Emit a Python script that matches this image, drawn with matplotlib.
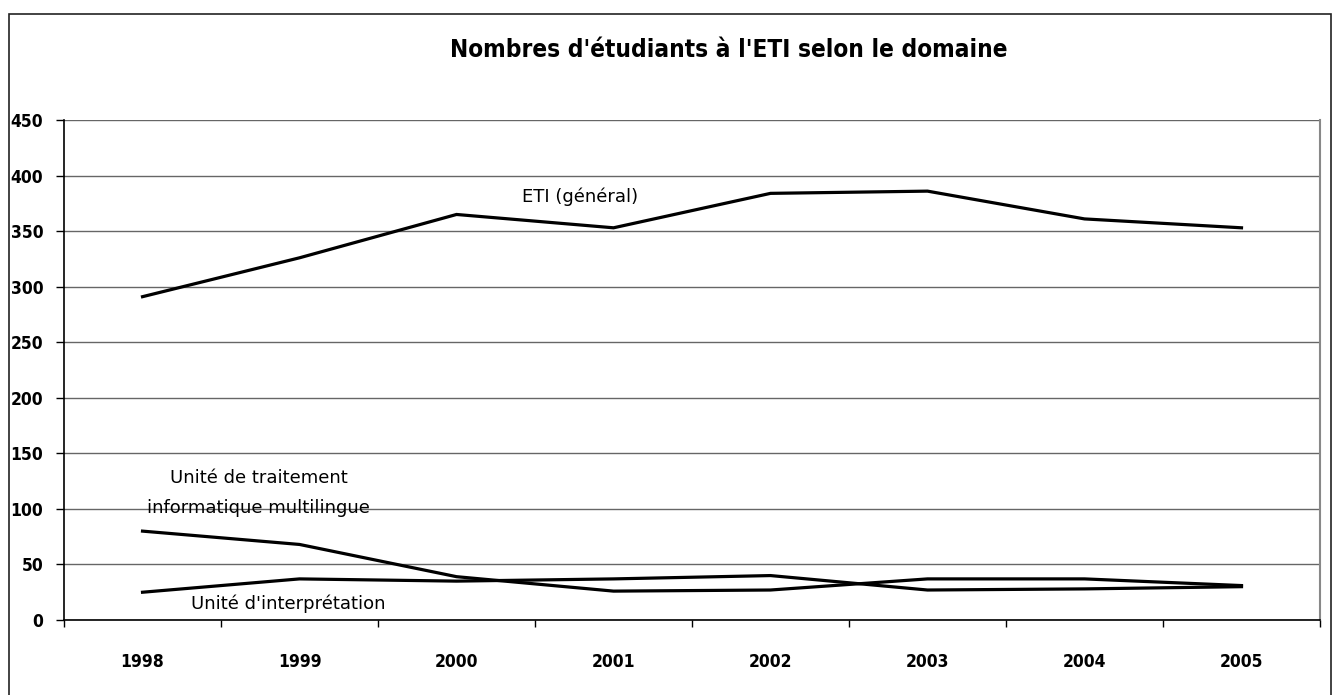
import matplotlib.pyplot as plt
import numpy as np
from matplotlib.patches import Rectangle

annees = ["1998", "1999", "2000", "2001", "2002", "2003", "2004", "2005"]
eti_general = [291, 326, 365, 353, 384, 386, 361, 353]
multilingue = [80, 68, 39, 26, 27, 37, 37, 31]
interpretation = [25, 37, 35, 37, 40, 27, 28, 30]

x = np.arange(len(annees))
fig = plt.figure(figsize=(13.34, 6.95), dpi=100)
ax = fig.add_axes([0.048, 0.1079, 0.9415, 0.7194])

# cadre autour de la figure
fig.patches.append(Rectangle((0.0065, -0.01), 0.991, 0.99, transform=fig.transFigure,
                             fill=False, edgecolor="#222222", linewidth=1.2))

for serie in [eti_general, multilingue, interpretation]:
    ax.plot(x, serie, color="black", linewidth=2.3, solid_joinstyle="miter")

ax.set_xlim(-0.5, len(annees) - 0.5)
ax.set_ylim(0, 450)
ax.set_yticks(np.arange(0, 451, 50))
ax.yaxis.grid(True, color="#666666", linewidth=1)
ax.set_axisbelow(True)

ax.set_xticks(x)
ax.set_xticklabels(annees)
ax.set_xticks(np.arange(-0.5, len(annees)), minor=True)
ax.tick_params(axis="x", which="major", length=0, pad=24)
ax.tick_params(axis="x", which="minor", length=5, width=1, direction="out")
ax.tick_params(axis="y", length=6, width=1, pad=9)

for lab in ax.get_xticklabels() + ax.get_yticklabels():
    lab.set_fontfamily("DejaVu Sans")
    lab.set_fontstretch("condensed")
    lab.set_fontweight("bold")
    lab.set_fontsize(12.5)

ax.spines["top"].set_visible(False)
ax.spines["right"].set_color("#888888")
ax.spines["right"].set_linewidth(1.5)
ax.spines["left"].set_linewidth(1.2)
ax.spines["bottom"].set_linewidth(1.2)

lab_font = dict(family="DejaVu Sans", size=13, ha="center", va="center")
ax.text(2.79, 381, "ETI (général)", **lab_font)
ax.text(0.74, 128, "Unité de traitement", **lab_font)
ax.text(0.74, 101, "informatique multilingue", **lab_font)
ax.text(0.93, 15, "Unité d'interprétation", **lab_font)

fig.text(0.546, 1 - 50 / 695, "Nombres d'étudiants à l'ETI selon le domaine",
         ha="center", va="center", fontsize=17.5, fontweight="bold",
         family="DejaVu Sans", fontstretch="condensed")

fig.savefig("out.png", dpi=100)
